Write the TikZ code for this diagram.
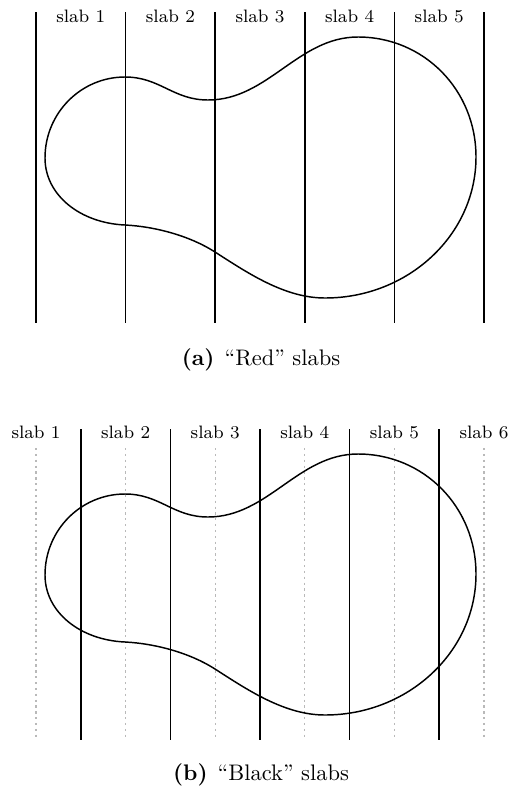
\documentclass[tikz,border=0pt]{standalone}
\begin{document}
\begin{tikzpicture}[x=0.4444pt,y=-0.4444pt,
  slabline/.style={line width=0.65pt},
  halfline/.style={gray!55, line width=0.5pt, dash pattern=on 1pt off 1.6pt},
  blob/.style={line width=0.65pt},
  lab/.style={font=\footnotesize, anchor=base, inner sep=0pt},
  captext/.style={anchor=base, inner sep=0pt}]
\useasboundingbox (0,0) rectangle (507,789);
\def\blobpath{(45,158) .. controls (45,113) and (81,77) .. (125,77)
  .. controls (160,77) and (173,100) .. (208,100)
  .. controls (268,100) and (298,37) .. (358,37)
  .. controls (424,37) and (476,90) .. (476,157)
  .. controls (476,235) and (408,298) .. (325,298)
  .. controls (285,298) and (248.6,273.6) .. (215,252)
  .. controls (189.8,235.8) and (155,226.5) .. (125,225)
  .. controls (80,223) and (45,195) .. (45,158) -- cycle}
% ---------- (a) Red slabs ----------
\foreach \i in {0,...,5}{
  \coordinate (at\i) at (36+89.6*\i,12);
  \coordinate (ab\i) at (36+89.6*\i,323);
  \draw[slabline] (at\i) -- (ab\i);
}
\foreach \i in {1,...,5}{
  \node[lab] (al\i) at (36+89.6*\i-44.8,22) {slab \i};
}
\draw[blob] \blobpath;
\node[captext] (capa) at (261,365) {\textbf{(a)}\hspace{4.5pt}“Red” slabs};
% ---------- (b) Black slabs ----------
\begin{scope}[shift={(0,417)}]
\foreach \i in {0,...,5}{
  \coordinate (dt\i) at (36+89.6*\i,31);
  \coordinate (db\i) at (36+89.6*\i,321);
  \draw[halfline] (dt\i) -- (db\i);
  \node[lab] (bl\i) at (36+89.6*\i,21) {slab \the\numexpr\i+1\relax};
}
\foreach \i in {1,...,5}{
  \coordinate (bt\i) at (36+89.6*\i-44.8,12);
  \coordinate (bb\i) at (36+89.6*\i-44.8,323);
  \draw[slabline] (bt\i) -- (bb\i);
}
\draw[blob] \blobpath;
\end{scope}
\node[captext] (capb) at (261,780) {\textbf{(b)}\hspace{4.5pt}“Black” slabs};
\end{tikzpicture}
\end{document}
